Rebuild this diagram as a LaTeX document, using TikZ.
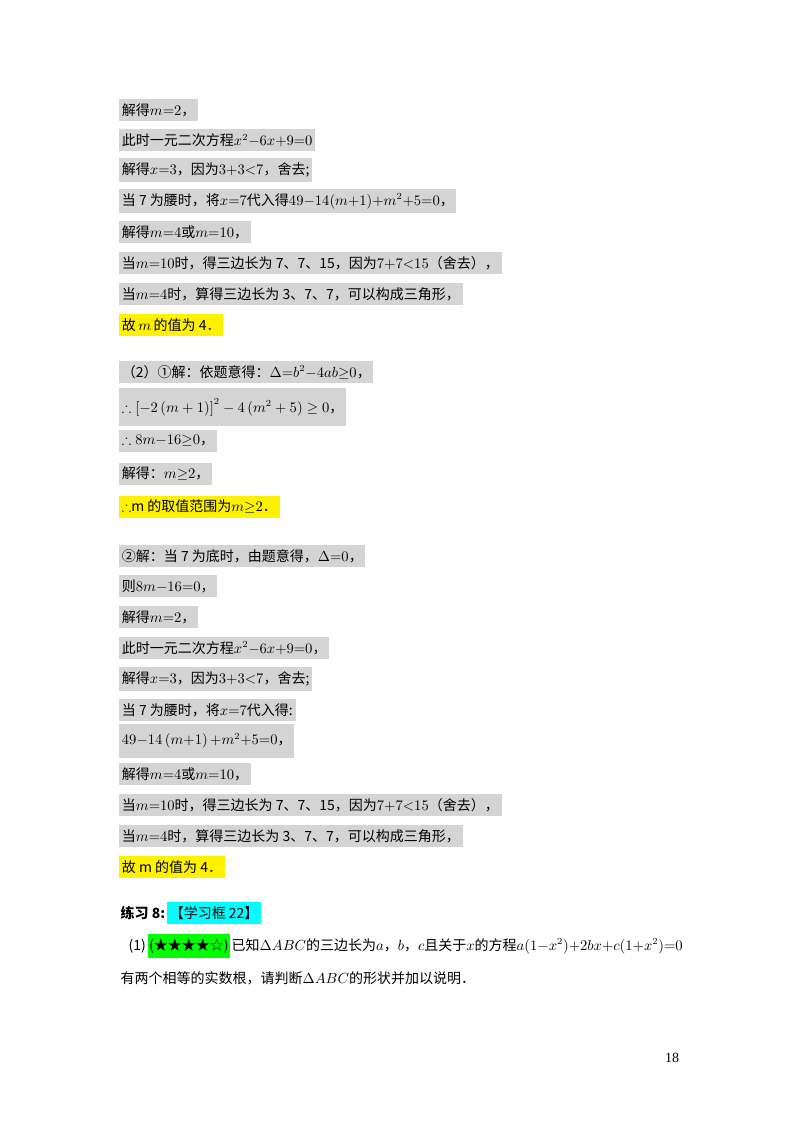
\documentclass[tikz,border=0pt]{standalone}
\usepackage{amsmath}
\usepackage{amssymb}
\usepackage{fontspec}
\setmainfont{Liberation Serif}
\newfontfamily\cjk{Noto Sans CJK SC}
\usetikzlibrary{positioning}
\usetikzlibrary{calc}
\definecolor{aqua}{RGB}{0,255,255}
\definecolor{lime}{RGB}{0,255,0}

\begin{document}
\begin{tikzpicture}[x=0.75pt,y=-0.75pt]

\tikzstyle{line}=[anchor=west,inner xsep=2pt,minimum height=17pt,fill=black!17!white,font=\cjk\fontsize{10.5pt}{13pt}\selectfont];
\tikzstyle{key}=[line,fill=yellow];
\tikzstyle{plain}=[anchor=west,inner sep=1pt,font=\cjk\fontsize{10.5pt}{13pt}\selectfont];

\useasboundingbox (0,0) rectangle (800,1132);
\fill[white] (0,0) rectangle (800,1132);

% first part
\node [line] (a1) at (119,110) {解得$m{=}2$，};
\node [line] (a2) at (119,140) {此时一元二次方程$x^2{-}6x{+}9{=}0$};
\node [line] (a3) at (119,170) {解得$x{=}3$，因为$3{+}3{<}7$，舍去;};
\node [line] (a4) at (119,201) {当 7 为腰时，将$x{=}7$代入得$49{-}14(m{+}1){+}m^2{+}5{=}0$，};
\node [line] (a5) at (119,232) {解得$m{=}4$或$m{=}10$，};
\node [line] (a6) at (119,263) {当$m{=}10$时，得三边长为 7、7、15，因为$7{+}7{<}15$（舍去），};
\node [line] (a7) at (119,294) {当$m{=}4$时，算得三边长为 3、7、7，可以构成三角形，};
\node [key] (a8) at (119,325) {故$\,m\,$的值为 4．};

% (2) first
\node [line] (b1) at (119,372) {（2）①解：依题意得：$\Delta{=}b^2{-}4ab{\ge}0$，};
\node [line,minimum height=28pt] (b2) at (119,407) {$\therefore\left[-2\left(m+1\right)\right]^2-4\left(m^2+5\right)\ge0$，};
\node [line] (b3) at (119,441) {$\therefore 8m{-}16{\ge}0$，};
\node [line] (b4) at (119,474) {解得：$m{\ge}2$，};
\node [key] (b5) at (119,507) {$\therefore$m 的取值范围为$m{\ge}2$．};

% (2) second
\node [line] (c1) at (119,556) {②解：当 7 为底时，由题意得，$\Delta{=}0$，};
\node [line] (c2) at (119,586) {则$8m{-}16{=}0$，};
\node [line] (c3) at (119,617) {解得$m{=}2$，};
\node [line] (c4) at (119,648) {此时一元二次方程$x^2{-}6x{+}9{=}0$，};
\node [line] (c5) at (119,679) {解得$x{=}3$，因为$3{+}3{<}7$，舍去;};
\node [line] (c6) at (119,710) {当 7 为腰时，将$x{=}7$代入得:};
\node [line,minimum height=25pt] (c7) at (119,741) {$49{-}14\left(m{+}1\right){+}m^2{+}5{=}0$，};
\node [line] (c8) at (119,774) {解得$m{=}4$或$m{=}10$，};
\node [line] (c9) at (119,805) {当$m{=}10$时，得三边长为 7、7、15，因为$7{+}7{<}15$（舍去），};
\node [line] (c10) at (119,836) {当$m{=}4$时，算得三边长为 3、7、7，可以构成三角形，};
\node [key] (c11) at (119,867) {故 m 的值为 4．};

% exercise
\node [plain,font=\cjk\bfseries\fontsize{10.5pt}{13pt}\selectfont] (ex) at (119,913) {练习 8:};
\node [line,fill=aqua,right=0pt of ex] (box) {【学习框 22】};
\node [plain] (q0) at (127,946) {(1)};
\node [line,fill=lime,right=0pt of q0,inner xsep=1pt] (star) {(★★★★☆)};
\node [plain,right=0pt of star] (q1) {已知$\Delta ABC$的三边长为$a$，$b$，$c$且关于$x$的方程$a(1{-}x^2){+}2bx{+}c(1{+}x^2){=}0$};
\node [plain] (q2) at (119,978) {有两个相等的实数根，请判断$\Delta ABC$的形状并加以说明．};

\node [font=\fontsize{10.5pt}{13pt}\selectfont] (page) at (672,1058) {18};

\end{tikzpicture}
\end{document}
